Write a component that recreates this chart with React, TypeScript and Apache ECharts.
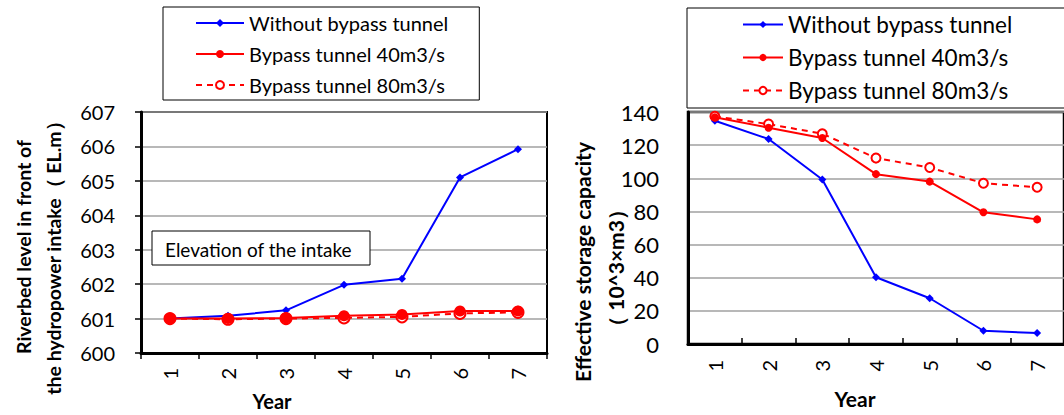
import React, { useEffect, useRef } from "react";
import * as echarts from "echarts";

const years = ["1", "2", "3", "4", "5", "6", "7"];
const seriesNames = ["Without bypass tunnel", "Bypass tunnel 40m3/s", "Bypass tunnel 80m3/s"];

// Left chart: riverbed level (EL.m)
const levelWithout = [601.0, 601.08, 601.24, 601.98, 602.16, 605.1, 605.92];
const level40 = [601.0, 601.0, 601.02, 601.08, 601.12, 601.22, 601.22];
const level80 = [601.0, 600.98, 601.0, 601.02, 601.05, 601.15, 601.18];
const levelTicks = { min: 600, max: 607, interval: 1 };

// Right chart: effective storage capacity (10^3 m3)
const storageWithout = [134.7, 123.7, 99.3, 40.3, 27.6, 8.0, 6.6];
const storage40 = [136.8, 130.5, 124.3, 102.5, 98.0, 79.5, 75.2];
const storage80 = [137.4, 132.7, 126.9, 112.2, 106.5, 97.0, 94.6];
const storageTicks = { min: 0, max: 140, interval: 20 };

const FONT = "Lato, 'Noto Sans', sans-serif";
const BLUE = "#0000ff";
const RED = "#ff0000";

export default function App() {
  const ref = useRef<HTMLDivElement>(null);
  useEffect(() => {
    if (!ref.current) return;
    const chart = echarts.init(ref.current, null, { renderer: "svg" });

    const mkSeries = (gi: number, data: number[][], big: boolean) => [
      {
        name: seriesNames[0],
        type: "line",
        xAxisIndex: gi,
        yAxisIndex: gi,
        data: data[0],
        symbol: "diamond",
        symbolSize: 8,
        lineStyle: { color: BLUE, width: 2 },
        itemStyle: { color: BLUE },
        z: 3,
      },
      {
        name: seriesNames[1],
        type: "line",
        xAxisIndex: gi,
        yAxisIndex: gi,
        data: data[1],
        symbol: "circle",
        symbolSize: big ? 11 : 8,
        lineStyle: { color: RED, width: 2 },
        itemStyle: { color: RED },
        z: 5,
      },
      {
        name: seriesNames[2],
        type: "line",
        xAxisIndex: gi,
        yAxisIndex: gi,
        data: data[2],
        symbol: "emptyCircle",
        symbolSize: big ? 11 : 9,
        showAllSymbol: true,
        lineStyle: { color: RED, width: 2, type: [6, 5] },
        itemStyle: { color: RED, borderWidth: 2 },
        z: 4,
      },
    ];

    const xAx = (gi: number, inside: boolean, margin: number) => ({
      type: "category",
      gridIndex: gi,
      data: years,
      boundaryGap: true,
      axisLine: { show: true, lineStyle: { color: "#000", width: 3 } },
      axisTick: { show: true, inside, length: 6, lineStyle: { color: "#000", width: 1.5 } },
      axisLabel: { rotate: 90, fontSize: 20, fontFamily: FONT, color: "#000", margin },
      splitLine: { show: false },
    });

    const yAx = (gi: number, t: any, margin: number, fs: number, ticks: boolean) => ({
      type: "value",
      gridIndex: gi,
      min: t.min,
      max: t.max,
      interval: t.interval,
      axisLine: { show: true, lineStyle: { color: "#000", width: 3 } },
      axisTick: { show: ticks, length: 6, lineStyle: { color: "#000", width: 1.5 } },
      axisLabel: { fontSize: fs, fontFamily: FONT, color: "#000", margin },
      splitLine: { show: true, lineStyle: { color: "#a0a0a0", width: 1.5 } },
    });

    const vText = (text: string, x: number, y: number, fs: number) => ({
      type: "text",
      x,
      y,
      rotation: Math.PI / 2,
      style: {
        text,
        fontSize: fs,
        fontWeight: "bold",
        fontFamily: FONT,
        fill: "#000",
        align: "center",
        verticalAlign: "middle",
      },
    });

    chart.setOption({
      animation: false,
      backgroundColor: "#fff",
      grid: [
        { left: 141, top: 112, width: 406, height: 241, show: true, borderColor: "#000", borderWidth: 2, backgroundColor: "transparent" },
        { left: 688, top: 112, width: 383, height: 232, show: true, borderColor: "#000", borderWidth: 2.5, backgroundColor: "transparent" },
      ],
      xAxis: [xAx(0, false, 15), xAx(1, true, 16)],
      yAxis: [yAx(0, levelTicks, 26, 20, true), yAx(1, storageTicks, 29, 22, false)],
      legend: [
        {
          data: seriesNames,
          orient: "vertical",
          left: 163,
          top: 7,
          padding: [5, 31, 4, 32],
          itemGap: 9,
          itemWidth: 48,
          itemHeight: 10,
          borderColor: "#000",
          borderWidth: 1,
          backgroundColor: "#fff",
          selectedMode: false,
          textStyle: { fontSize: 20, lineHeight: 22, fontFamily: FONT, color: "#000" },
        },
        {
          data: seriesNames,
          orient: "vertical",
          left: 687,
          top: 8,
          padding: [5, 60, 6, 55],
          itemGap: 10,
          itemWidth: 40,
          itemHeight: 9,
          borderColor: "#000",
          borderWidth: 1,
          backgroundColor: "#fff",
          selectedMode: false,
          textStyle: { fontSize: 22.5, lineHeight: 22, fontFamily: FONT, color: "#000" },
        },
      ],
      graphic: [
        {
          type: "rect",
          shape: { x: 152, y: 231, width: 218, height: 34 },
          style: { fill: "#fff", stroke: "#000", lineWidth: 1 },
          z: 10,
        },
        {
          type: "text",
          x: 165,
          y: 249,
          z: 11,
          style: { text: "Elevation of the intake", fontSize: 19, fontFamily: FONT, fill: "#000", verticalAlign: "middle" },
        },
        vText("Riverbed level in front of", 23, 247, 19.5),
        vText("the hydropower intake（ EL.m）", 53, 253, 19.5),
        vText("Effective storage capacity", 582, 262, 21),
        vText("（ 10^3×m3）", 615, 268, 21),
        {
          type: "text",
          x: 272,
          y: 401,
          style: { text: "Year", fontSize: 20, fontWeight: "bold", fontFamily: FONT, fill: "#000", align: "center", verticalAlign: "middle" },
        },
        {
          type: "text",
          x: 855,
          y: 398,
          style: { text: "Year", fontSize: 21, fontWeight: "bold", fontFamily: FONT, fill: "#000", align: "center", verticalAlign: "middle" },
        },
      ],
      series: [
        ...mkSeries(0, [levelWithout, level40, level80], true),
        ...mkSeries(1, [storageWithout, storage40, storage80], false),
      ],
    });

    return () => chart.dispose();
  }, []);

  return (
    <div
      ref={ref}
      style={{ position: "fixed", left: 0, top: 0, width: 1064, height: 415 }}
    />
  );
}
